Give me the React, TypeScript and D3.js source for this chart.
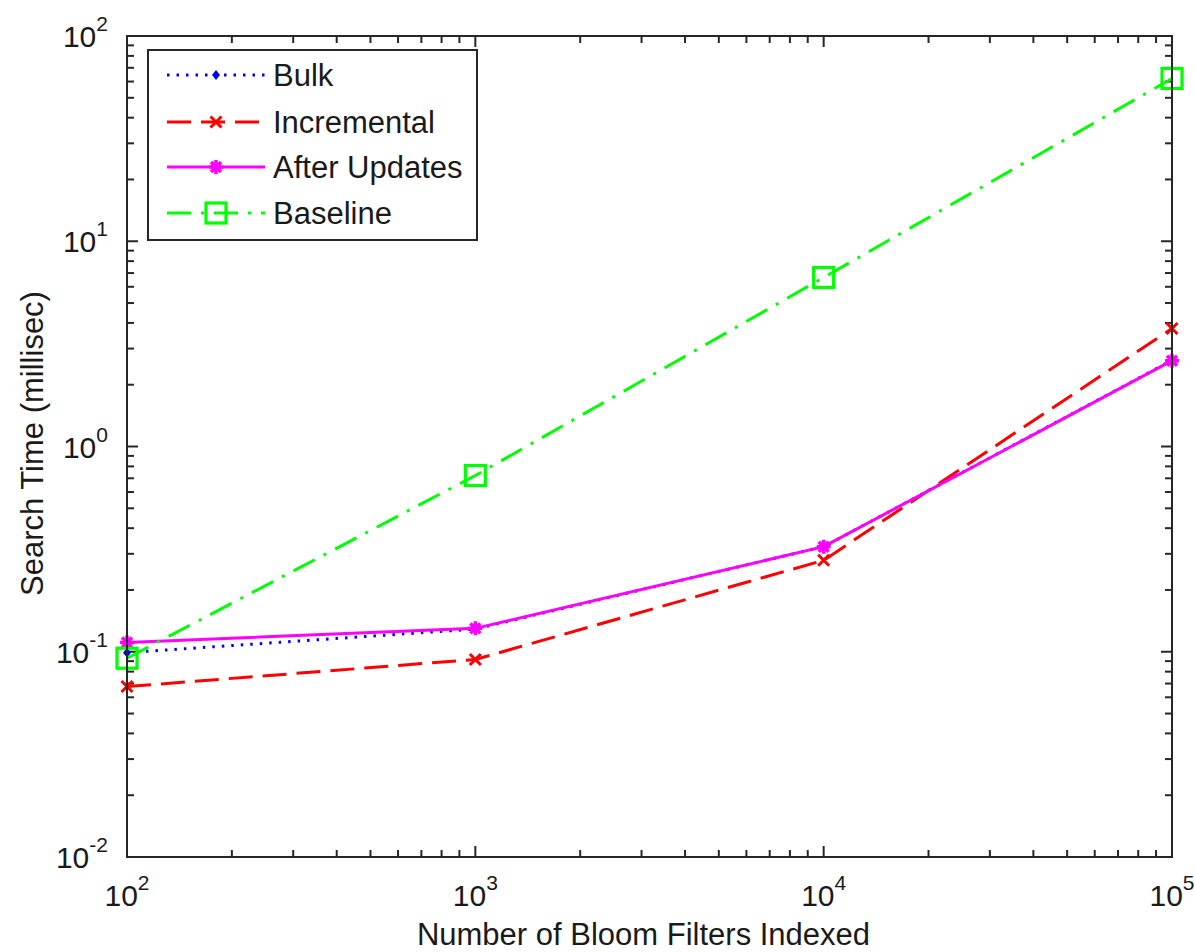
import * as d3 from "d3";

const W = 1195;
const H = 952;

// data
const filters = [100, 1000, 10000, 100000];
const bulk = [0.099, 0.129, 0.325, 2.63];
const incremental = [0.0677, 0.0917, 0.279, 3.76];
const afterUpdates = [0.111, 0.13, 0.325, 2.62];
const baseline = [0.093, 0.722, 6.66, 62.1];

const xDomain = [100, 100000];
const yDomain = [0.01, 100];

const FONT = "'Liberation Sans', Arial, Helvetica, sans-serif";

const plot = { left: 127, right: 1172, top: 36, bottom: 857 };

type Marker = "dot" | "x" | "star" | "square";

interface Series {
  name: string;
  values: number[];
  color: string;
  dash: string;
  marker: Marker;
}

const series: Series[] = [
  { name: "Bulk", values: bulk, color: "#0000ff", dash: "2.5,7", marker: "dot" },
  { name: "Incremental", values: incremental, color: "#ff0000", dash: "24,10", marker: "x" },
  { name: "After Updates", values: afterUpdates, color: "#ff00ff", dash: "", marker: "star" },
  { name: "Baseline", values: baseline, color: "#00ff00", dash: "24,10,3,10", marker: "square" },
];

function MarkerShape({ type, cx, cy, color }: { type: Marker; cx: number; cy: number; color: string }) {
  if (type === "dot") {
    return <path d={`M${cx},${cy - 5}L${cx + 4},${cy}L${cx},${cy + 5}L${cx - 4},${cy}Z`} fill={color} />;
  }
  if (type === "x") {
    const s = 5.5;
    return (
      <path
        d={`M${cx - s},${cy - s}L${cx + s},${cy + s}M${cx - s},${cy + s}L${cx + s},${cy - s}`}
        stroke={color}
        strokeWidth={3}
        fill="none"
      />
    );
  }
  if (type === "star") {
    const s = 7;
    const d = 5;
    return (
      <path
        d={`M${cx},${cy - s}L${cx},${cy + s}M${cx - s},${cy}L${cx + s},${cy}M${cx - d},${cy - d}L${cx + d},${cy + d}M${cx - d},${cy + d}L${cx + d},${cy - d}`}
        stroke={color}
        strokeWidth={3.5}
        fill="none"
      />
    );
  }
  const h = 10;
  return <rect x={cx - h} y={cy - h} width={2 * h} height={2 * h} fill="none" stroke={color} strokeWidth={3.2} />;
}

export default function App() {
  const x = d3.scaleLog().domain(xDomain).range([plot.left, plot.right]);
  const y = d3.scaleLog().domain(yDomain).range([plot.bottom, plot.top]);

  const line = d3
    .line<number>()
    .x((_, i) => x(filters[i]))
    .y((d) => y(d));

  const isMajor = (v: number) => Math.abs(Math.log10(v) - Math.round(Math.log10(v))) < 1e-9;
  const xTicks = x.ticks();
  const yTicks = y.ticks();

  const axisColor = "#262626";
  const tickSize = (v: number) => (isMajor(v) ? 11 : 7);

  const legendRows = [75, 122, 167, 213];

  return (
    <svg
      width={W}
      height={H}
      style={{ position: "absolute", left: 0, top: 0, background: "#fff" }}
      fontFamily={FONT}
    >
      <rect width={W} height={H} fill="#fff" />

      {/* ticks on all four sides, pointing inward */}
      <g stroke={axisColor} strokeWidth={2}>
        {xTicks.map((t, i) => (
          <g key={`xt${i}`}>
            <line x1={x(t)} x2={x(t)} y1={plot.bottom} y2={plot.bottom - tickSize(t)} />
            <line x1={x(t)} x2={x(t)} y1={plot.top} y2={plot.top + tickSize(t)} />
          </g>
        ))}
        {yTicks.map((t, i) => (
          <g key={`yt${i}`}>
            <line x1={plot.left} x2={plot.left + tickSize(t)} y1={y(t)} y2={y(t)} />
            <line x1={plot.right} x2={plot.right - tickSize(t)} y1={y(t)} y2={y(t)} />
          </g>
        ))}
      </g>

      {/* tick labels */}
      <g fill="#1a1a1a" fontSize={30}>
        {xTicks.filter(isMajor).map((t, i) => (
          <text key={`xl${i}`} x={x(t)} y={906} textAnchor="middle">
            10
            <tspan fontSize={21} dy={-16}>
              {Math.round(Math.log10(t))}
            </tspan>
          </text>
        ))}
        {yTicks.filter(isMajor).map((t, i) => (
          <text key={`yl${i}`} x={108} y={y(t) + 11} textAnchor="end">
            10
            <tspan fontSize={21} dy={-16}>
              {Math.round(Math.log10(t))}
            </tspan>
          </text>
        ))}
      </g>

      {/* axis titles */}
      <text x={(plot.left + plot.right) / 2 - 6} y={945} textAnchor="middle" fontSize={31} fill="#1a1a1a">
        Number of Bloom Filters Indexed
      </text>
      <text
        transform={`translate(43,${(plot.top + plot.bottom) / 2 - 3}) rotate(-90)`}
        textAnchor="middle"
        fontSize={31}
        fill="#1a1a1a"
      >
        Search Time (millisec)
      </text>

      {/* series */}
      {series.map((s) => (
        <g key={s.name}>
          <path
            d={line(s.values) ?? ""}
            fill="none"
            stroke={s.color}
            strokeWidth={3}
            strokeDasharray={s.dash || undefined}
          />
          {s.values.map((v, i) => (
            <MarkerShape key={i} type={s.marker} cx={x(filters[i])} cy={y(v)} color={s.color} />
          ))}
        </g>
      ))}

      {/* frame */}
      <rect
        x={plot.left}
        y={plot.top}
        width={plot.right - plot.left}
        height={plot.bottom - plot.top}
        fill="none"
        stroke={axisColor}
        strokeWidth={2}
      />

      {/* legend */}
      <g>
        <rect x={148} y={50} width={329} height={190} fill="#fff" stroke={axisColor} strokeWidth={2} />
        {series.map((s, i) => (
          <g key={s.name}>
            <line
              x1={167}
              x2={265}
              y1={legendRows[i]}
              y2={legendRows[i]}
              stroke={s.color}
              strokeWidth={3}
              strokeDasharray={s.dash || undefined}
            />
            <MarkerShape type={s.marker} cx={216} cy={legendRows[i]} color={s.color} />
            <text x={273} y={legendRows[i] + 11} fontSize={31} fill="#1a1a1a">
              {s.name}
            </text>
          </g>
        ))}
      </g>
    </svg>
  );
}
